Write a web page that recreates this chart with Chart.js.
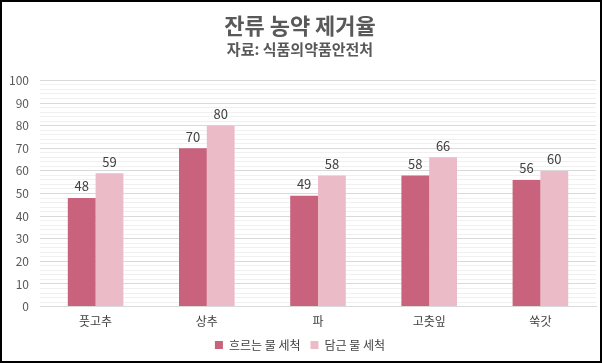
<!DOCTYPE html>
<html>
<head>
<meta charset="utf-8">
<script src="https://cdn.jsdelivr.net/npm/chart.js"></script>
<style>
  html, body { margin: 0; padding: 0; background: #fff; }
  #wrap { position: relative; width: 598px; height: 359px; border: 2px solid #000; }
</style>
</head>
<body>
<div id="wrap"><canvas id="chart"></canvas></div>
<script>
// chart data
const categories = ['풋고추', '상추', '파', '고춧잎', '쑥갓'];
const seriesNames = ['흐르는 물 세척', '담근 물 세척'];
const runningWater = [48, 70, 49, 58, 56];
const soakedWater = [59, 80, 58, 66, 60];
const titleText = '잔류 농약 제거율';
const subtitleText = '자료: 식품의약품안전처';

const fontFamily = "'Noto Sans CJK KR', 'Noto Sans', sans-serif";

// draw the value above every bar
const valueLabels = {
    id: 'valueLabels',
    afterDatasetsDraw(chart) {
        const ctx = chart.ctx;
        ctx.save();
        ctx.font = '13px ' + fontFamily;
        ctx.fillStyle = '#404040';
        ctx.textAlign = 'center';
        ctx.textBaseline = 'bottom';
        chart.data.datasets.forEach((ds, i) => {
            chart.getDatasetMeta(i).data.forEach((bar, j) => {
                ctx.fillText(ds.data[j], bar.x, bar.y - 5);
            });
        });
        ctx.restore();
    }
};

const ctx = document.getElementById('chart').getContext('2d');

new Chart(ctx, {
    type: 'bar',
    data: {
        labels: categories,
        datasets: [
            {
                label: seriesNames[0],
                data: runningWater,
                backgroundColor: '#C8627D',
            },
            {
                label: seriesNames[1],
                data: soakedWater,
                backgroundColor: '#EBBBC8',
            },
        ],
    },
    options: {
        responsive: true,
        maintainAspectRatio: false,
        animation: false,
        layout: { padding: { left: 2, right: 4, top: 6, bottom: 0 } },
        datasets: {
            bar: { barPercentage: 1.0, categoryPercentage: 0.5 },
        },
        scales: {
            x: {
                grid: { display: false },
                border: { color: '#D9D9D9' },
                ticks: { padding: 0, color: '#404040', font: { family: fontFamily, size: 12 } },
            },
            y: {
                min: 0,
                max: 100,
                border: { display: false },
                afterFit: (s) => { s.width = 36; },
                ticks: {
                    stepSize: 2,
                    autoSkip: false,
                    padding: 11,
                    color: '#595959',
                    font: { family: fontFamily, size: 12 },
                    callback: (v) => (v % 10 === 0 ? v : ''),
                },
                grid: {
                    drawTicks: false,
                    color: (c) => (c.tick && c.tick.value % 10 === 0 ? '#D9D9D9' : '#F0F0F0'),
                },
            },
        },
        plugins: {
            title: {
                display: true,
                text: titleText,
                color: '#595959',
                font: { family: fontFamily, size: 22, weight: 'bold' },
                padding: { top: 4, bottom: 2 },
            },
            subtitle: {
                display: true,
                text: subtitleText,
                color: '#595959',
                font: { family: fontFamily, size: 15, weight: 'bold' },
                padding: { bottom: 22 },
            },
            legend: {
                position: 'bottom',
                labels: {
                    color: '#404040',
                    boxWidth: 8,
                    boxHeight: 8,
                    padding: 10,
                    font: { family: fontFamily, size: 12 },
                },
            },
            tooltip: { enabled: false },
        },
    },
    plugins: [valueLabels],
});
</script>
</body>
</html>
